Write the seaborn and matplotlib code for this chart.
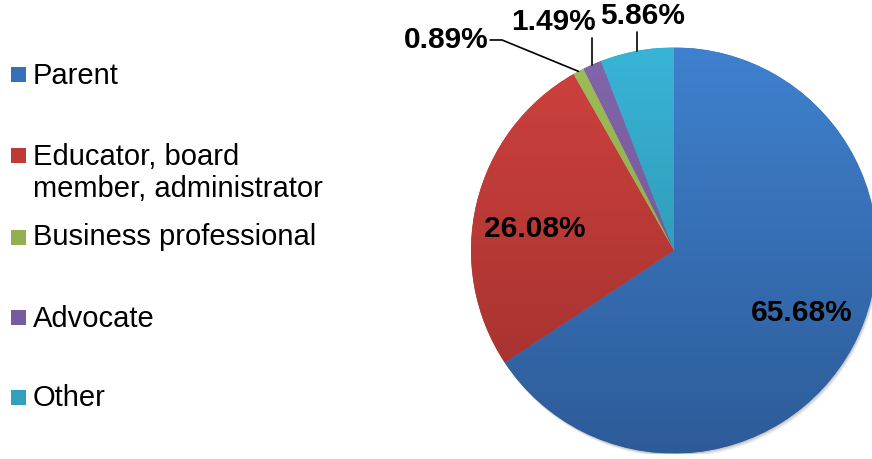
import numpy as np
import matplotlib
matplotlib.use("Agg")
import matplotlib.pyplot as plt
from matplotlib.patches import Rectangle, Circle
from matplotlib.colors import to_rgb
import seaborn as sns

categories = ["Parent", "Educator, board\nmember, administrator", "Business professional", "Advocate", "Other"]
values = [65.68, 26.08, 0.89, 1.49, 5.86]
pct_labels = ["65.68%", "26.08%", "0.89%", "1.49%", "5.86%"]

light = ["#3f81ce", "#cf413e", "#9dbd5a", "#8265aa", "#38b4d6"]
dark = ["#2d5b98", "#9e302d", "#84a148", "#6a528e", "#2987a2"]
legend_colors = ["#3670b8", "#be3a37", "#92b051", "#765b9e", "#31a0bf"]

sns.set_theme(style="white")
plt.rcParams['font.family'] = ['Liberation Sans', 'DejaVu Sans']

W, H = 872, 460
fig = plt.figure(figsize=(W / 100, H / 100), dpi=100)
cx, cy, R = 674, 251.5, 203
ax = fig.add_axes([(cx - R) / W, (H - cy - R) / H, 2 * R / W, 2 * R / H])

# soft shadow
for k, a in [(0.018, 0.06), (0.012, 0.08), (0.006, 0.10)]:
    ax.add_patch(Circle((k * 0.6, -k), 1.0, color="black", alpha=a, lw=0, zorder=0))

wedges, _ = ax.pie(values, startangle=90, counterclock=False, colors=legend_colors,
                   radius=1.0, center=(0, 0), frame=False,
                   wedgeprops=dict(linewidth=0))
ax.set_xlim(-1, 1)
ax.set_ylim(-1, 1)
ax.set_aspect("equal")
ax.axis("off")

# vertical gradients clipped to each wedge
for w, lc, dc in zip(wedges, light, dark):
    t = np.linspace(0, 1, 256)[:, None]
    l, d = np.array(to_rgb(lc)), np.array(to_rgb(dc))
    img = (l[None, :] * (1 - t) + d[None, :] * t)[:, None, :]
    im = ax.imshow(img, extent=[-1, 1, -1, 1], origin="upper", aspect="auto", zorder=2)
    im.set_clip_path(w)
ax.set_xlim(-1, 1)
ax.set_ylim(-1, 1)

# wedge mid angles
starts, ends = [], []
a = 90.0
for v in values:
    starts.append(a)
    a -= v / sum(values) * 360
    ends.append(a)
mids = [(s + e) / 2 for s, e in zip(starts, ends)]

def edge(i):
    th = np.deg2rad(mids[i])
    return np.cos(th), np.sin(th)

fs_lab = 21.5
lab_kw = dict(fontsize=fs_lab, fontweight="bold", color="black", clip_on=False, zorder=6)

# inside labels
ax.text(0.628, -0.305, pct_labels[0], ha="center", va="center", **lab_kw)
ax.text(-0.685, 0.111, pct_labels[1], ha="center", va="center", **lab_kw)

# 0.89%
ex, ey = edge(2)
ax.plot([ex, -0.847, -0.906], [ey, 1.037, 1.037], color="black", lw=1.2, clip_on=False, zorder=6)
ax.text(-0.915, 1.042, pct_labels[2], ha="right", va="center", **lab_kw)
# 1.49%
ex, ey = edge(3)
ax.plot([ex, ex], [ey, 1.047], color="black", lw=1.2, clip_on=False, zorder=6)
ax.text(-0.596, 1.13, pct_labels[3], ha="center", va="center", **lab_kw)
# 5.86%
ex, ey = edge(4)
ax.plot([ex, ex], [ey, 1.076], color="black", lw=1.2, clip_on=False, zorder=6)
ax.text(-0.153, 1.158, pct_labels[4], ha="center", va="center", **lab_kw)

# legend (manual, Excel-like spacing)
fs_leg = 21
marker_centers = [75.5, 156, 238, 318, 398]
baselines = [84, 197, 245, 327, 406]
for name, col, mc, bl in zip(categories, legend_colors, marker_centers, baselines):
    fig.add_artist(Rectangle((11 / W, 1 - (mc + 7.5) / H), 15 / W, 15 / H,
                             transform=fig.transFigure, facecolor=col, edgecolor="none"))
    fig.text(33 / W, 1 - bl / H, name, ha="left", va="baseline", fontsize=fs_leg,
             color="black", linespacing=1.17)

fig.savefig("out.png", dpi=100)
